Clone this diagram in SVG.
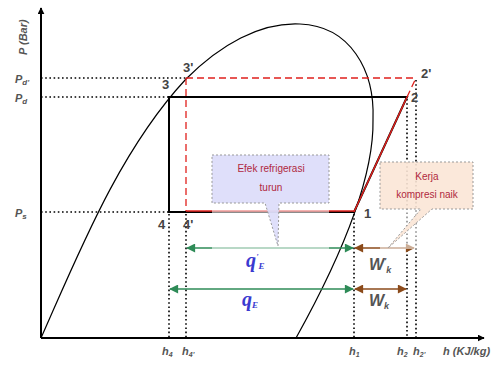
<svg xmlns="http://www.w3.org/2000/svg" width="504" height="365" viewBox="0 0 504 365">
<defs>
<style>
.ax{stroke:#000;stroke-width:2;fill:none}
.solid{stroke:#000;stroke-width:2;fill:none}
.dome{stroke:#000;stroke-width:1.2;fill:none}
.dot{stroke:#000;stroke-width:1.6;stroke-dasharray:1.6 2.6;fill:none}
.rd{stroke:#e0201c;stroke-width:1.3;stroke-dasharray:7 4;fill:none}
.rs{stroke:#e0201c;stroke-width:1.5;fill:none}
.g{stroke:#2e8b57;stroke-width:1.6;fill:none}
.b{stroke:#8b4a1a;stroke-width:1.6;fill:none}
.lbl{font-family:"Liberation Sans",Arial,sans-serif;font-weight:bold;fill:#444;font-size:13px}
.ax-l{font-family:"Liberation Sans",Arial,sans-serif;font-weight:bold;font-style:italic;fill:#555;font-size:11px}
.q{font-family:"Liberation Serif","Times New Roman",serif;font-weight:bold;font-style:italic;fill:#3a3ad0;font-size:20px}
.w{font-family:"Liberation Sans",Arial,sans-serif;font-weight:bold;font-style:italic;fill:#555;font-size:16px}
.ct{font-family:"Liberation Sans",Arial,sans-serif;fill:#b02840;font-size:10px;text-anchor:middle}
.box{stroke:#999;stroke-width:1;stroke-dasharray:2 2}
</style>
<marker id="axh" viewBox="0 0 10 10" refX="9" refY="5" markerWidth="7" markerHeight="7" orient="auto-start-reverse" markerUnits="userSpaceOnUse"><path d="M0,0 L10,5 L0,10 Z" fill="#000"/></marker>
<marker id="gh" viewBox="0 0 10 10" refX="9" refY="5" markerWidth="11" markerHeight="9" orient="auto-start-reverse" markerUnits="userSpaceOnUse"><path d="M0,0 L10,5 L0,10 Z" fill="#2e8b57"/></marker>
<marker id="bh" viewBox="0 0 10 10" refX="9" refY="5" markerWidth="11" markerHeight="9" orient="auto-start-reverse" markerUnits="userSpaceOnUse"><path d="M0,0 L10,5 L0,10 Z" fill="#8b4a1a"/></marker>
</defs>
<rect width="504" height="365" fill="#fff"/>

<g id="axes">
<line class="ax" x1="41" y1="338" x2="41" y2="8" marker-end="url(#axh)"/>
<line class="ax" x1="41" y1="338" x2="484" y2="338" marker-end="url(#axh)"/>
<text class="ax-l" transform="translate(27,55) rotate(-90)" font-size="12">P (Bar)</text>
<text class="ax-l" x="443" y="355">h (KJ/kg)</text>
</g>

<g id="dome">
<path class="dome" d="M41,338 C80,250 120,150 186,79 C220,45 260,22 300,24 C350,26 375,70 373,120 C374,175 345,250 296,338"/>
</g>

<g id="connectors">
<line class="dot" x1="41" y1="78" x2="186" y2="78"/>
<line class="dot" x1="41" y1="97" x2="169" y2="97"/>
<line class="dot" x1="41" y1="212" x2="169" y2="212"/>
<line class="dot" x1="169" y1="214" x2="169" y2="337"/>
<line class="dot" x1="186" y1="214" x2="186" y2="337"/>
<line class="dot" x1="354" y1="214" x2="354" y2="337"/>
<line class="dot" x1="407" y1="99" x2="407" y2="337"/>
<line class="dot" x1="416" y1="80" x2="416" y2="337"/>
<path class="solid" d="M354,212 L169,212 L169,97 L407,97 L354,212"/>
<line class="rd" x1="186" y1="78" x2="416" y2="78"/>
<line class="rd" x1="186" y1="78" x2="186" y2="211"/>
<line class="rs" x1="186" y1="211" x2="354" y2="211"/>
<line class="rs" x1="354" y1="212" x2="407" y2="97"/>
<line class="rd" x1="407" y1="97" x2="416" y2="78"/>
<line class="g" x1="187" y1="248" x2="353" y2="248" marker-start="url(#gh)" marker-end="url(#gh)"/>
<line class="b" x1="355" y1="248" x2="414" y2="248" marker-start="url(#bh)" marker-end="url(#bh)"/>
<line class="g" x1="170" y1="289" x2="353" y2="289" marker-start="url(#gh)" marker-end="url(#gh)"/>
<line class="b" x1="355" y1="289" x2="406" y2="289" marker-start="url(#bh)" marker-end="url(#bh)"/>
</g>

<g id="labels">
<text class="ax-l" x="15" y="83">P<tspan font-size="8" dy="2">d'</tspan></text>
<text class="ax-l" x="15" y="102">P<tspan font-size="8" dy="2">d</tspan></text>
<text class="ax-l" x="15" y="217">P<tspan font-size="8" dy="2">s</tspan></text>
<text class="lbl" x="162" y="89">3</text>
<text class="lbl" x="183" y="72">3'</text>
<text class="lbl" x="411" y="102">2</text>
<text class="lbl" x="421" y="78">2'</text>
<text class="lbl" x="364" y="218">1</text>
<text class="lbl" x="158" y="229">4</text>
<text class="lbl" x="183" y="229">4'</text>
<text class="ax-l" x="162" y="355">h<tspan font-size="7" dy="2">4</tspan></text>
<text class="ax-l" x="182" y="355">h<tspan font-size="7" dy="2">4'</tspan></text>
<text class="ax-l" x="349" y="355">h<tspan font-size="7" dy="2">1</tspan></text>
<text class="ax-l" x="397" y="355">h<tspan font-size="7" dy="2">2</tspan></text>
<text class="ax-l" x="413" y="355">h<tspan font-size="7" dy="2">2'</tspan></text>
<text class="q" x="246" y="267">q<tspan font-size="9" dy="-7">'</tspan><tspan font-size="9" dy="9">E</tspan></text>
<text class="q" x="242" y="306">q<tspan font-size="9" dy="2">E</tspan></text>
<text class="w" x="369" y="270">W<tspan font-size="9" dy="-6">'</tspan><tspan font-size="9" dy="9">k</tspan></text>
<text class="w" x="369" y="306">W<tspan font-size="9" dy="3">k</tspan></text>
</g>

<g id="callout-efek">
<rect x="212" y="203" width="117" height="46" fill="#fff" opacity="0.55"/>
<path class="box" d="M212,155 H329 V203 H279 L278,246 L265,203 H212 Z" fill="#dcdcfa" fill-opacity="0.9"/>
<text class="ct" x="271" y="172">Efek refrigerasi</text>
<text class="ct" x="271" y="191">turun</text>
</g>

<g id="callout-kerja">
<rect x="380" y="209" width="93" height="40" fill="#fff" opacity="0.55"/>
<path class="box" d="M380,162 H473 V209 H432 L388,248 L421,209 H380 Z" fill="#fbe5d6" fill-opacity="0.9"/>
<text class="ct" x="427" y="180">Kerja</text>
<text class="ct" x="427" y="198">kompresi naik</text>
</g>
</svg>
